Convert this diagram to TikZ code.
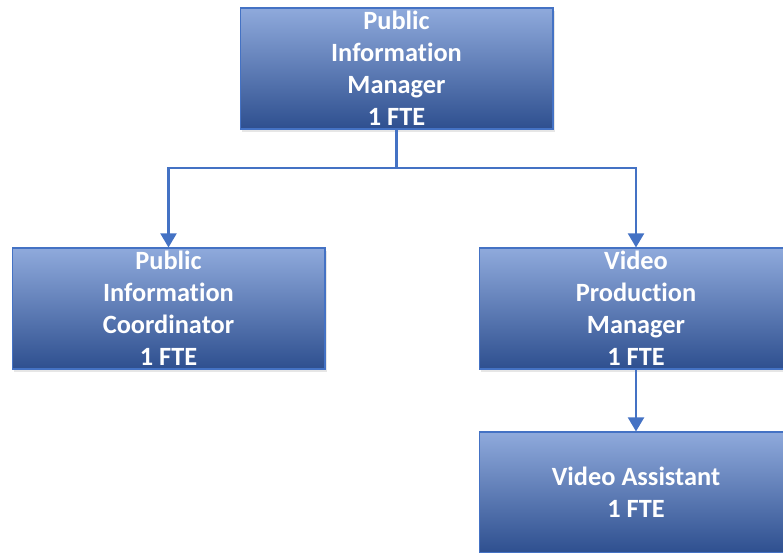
\documentclass[tikz,border=0pt]{standalone}
\usepackage{fontspec}
\setmainfont{Carlito}[Ligatures=NoCommon]
\usetikzlibrary{arrows.meta,shadows}

\definecolor{boxtop}{HTML}{8FAADC}
\definecolor{boxmid}{HTML}{4673C8}
\definecolor{boxbot}{HTML}{2E4F8F}
\definecolor{boxline}{HTML}{4472C4}
\definecolor{linkblue}{HTML}{4472C4}

\begin{document}
\begin{tikzpicture}[x=0.02cm,y=0.02cm,
  role/.style={draw=boxline, line width=0.6pt,
    top color=boxtop, middle color=boxmid, bottom color=boxbot,
    minimum width=6.26cm, minimum height=2.42cm, inner sep=0pt,
    align=center, text=white,
    font=\fontsize{15}{18.2}\selectfont\bfseries,
    drop shadow={opacity=0.2, shadow xshift=1pt, shadow yshift=-1.5pt}},
  link/.style={draw=linkblue, line width=1.5pt},
  tip/.style={-{Triangle[length=8pt,width=9pt]}}]

% Fix the page size
\useasboundingbox (0,0) rectangle (783,552);
\clip (0,0) rectangle (783,552);

% Boxes
\node[role] (pim) at (396.5,483.5) {Public\\Information\\Manager\\1 FTE};
\node[role] (pic) at (168.5,243.5) {Public\\Information\\Coordinator\\1 FTE};
\node[role] (vpm) at (636,243.5) {Video\\Production\\Manager\\1 FTE};
\node[role] (va) at (636,59.5) {Video Assistant\\1 FTE};

% Connectors
\coordinate (split) at (396.5,384);
\draw[link] (pim.south) -- (split);
\draw[link,tip] (split) -| (pic.north);
\draw[link,tip] (split) -| (vpm.north);
\draw[link,tip] (vpm.south) -- (va.north);

\end{tikzpicture}
\end{document}
